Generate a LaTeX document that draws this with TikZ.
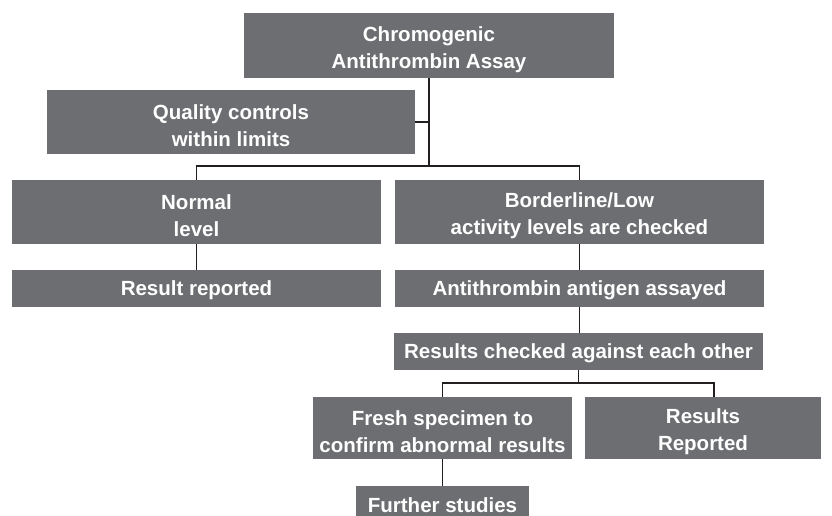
\documentclass[tikz,border=0pt]{standalone}
\usepackage{fontspec}
\setmainfont{Liberation Sans}
\definecolor{boxgray}{HTML}{6D6E71}
\definecolor{linecol}{HTML}{231F20}
\begin{document}
\begin{tikzpicture}[x=1pt,y=-1pt,
  box/.style={fill=boxgray, draw=none, inner sep=0pt},
  lbl/.style={text=white, align=center, inner sep=0pt,
    font=\fontsize{20.5}{27}\selectfont\bfseries},
  two/.style={label={[lbl, yshift=-4pt]center:#1}},
  one/.style={label={[lbl, yshift=-1.5pt]center:#1}},
  conn/.style={draw=linecol, line width=1.3pt}]
\useasboundingbox (0,0) rectangle (832,516);
\node[box, minimum width=370pt, minimum height=65pt, two={Chromogenic\\Antithrombin Assay}] (A) at (429,45.5) {};
\node[box, minimum width=368pt, minimum height=64pt, two={Quality controls\\within limits}] (Q) at (231,122) {};
\node[box, minimum width=369pt, minimum height=64pt, two={Normal\\level}] (N) at (196.5,212) {};
\node[box, minimum width=369pt, minimum height=64pt, two={Borderline/Low\\activity levels are checked}] (B) at (579.5,212) {};
\node[box, minimum width=369pt, minimum height=37pt, one={Result reported}] (R) at (196.5,288.5) {};
\node[box, minimum width=369pt, minimum height=37pt, one={Antithrombin antigen assayed}] (G) at (579.5,288.5) {};
\node[box, minimum width=369pt, minimum height=37pt, one={Results checked against each other}] (C) at (578.5,351.5) {};
\node[box, minimum width=259pt, minimum height=62pt, two={Fresh specimen to\\confirm abnormal results}] (F) at (442.5,428) {};
\node[box, minimum width=236pt, minimum height=62pt, two={Results\\Reported}] (RR) at (703,428) {};
\node[box, minimum width=173pt, minimum height=36pt, one={Further studies}] (FS) at (442.5,504) {};
\coordinate (j1) at (429,166);
\coordinate (j2) at (578,383);
\coordinate (rrtop) at (714,397);
\draw[conn] (A.south) -- (A.south |- j1);
\draw[conn] (Q.east) -- (Q.east -| A.south);
\draw[conn] (N.north) |- (j1) -| (B.north);
\draw[conn] (N.south) -- (R.north);
\draw[conn] (B.south) -- (G.north);
\draw[conn] (G.south) -- (G.south |- C.north);
\draw[conn] (C.south) -- (C.south |- j2);
\draw[conn] (F.north) |- (j2) -| (rrtop);
\draw[conn] (F.south) -- (FS.north);
\end{tikzpicture}
\end{document}
